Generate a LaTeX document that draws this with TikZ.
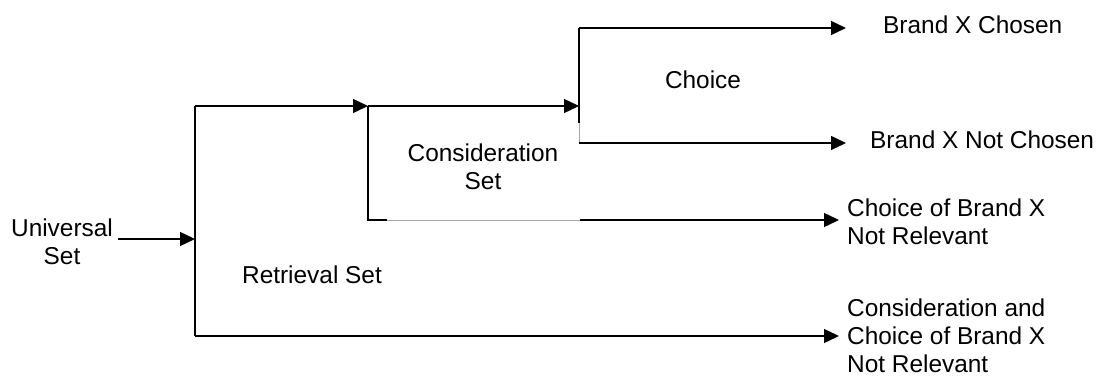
\documentclass[tikz,border=0pt]{standalone}
\usepackage{fontspec}
\setmainfont{Liberation Sans}
\usetikzlibrary{arrows.meta}
\begin{document}
\begin{tikzpicture}[x=1bp,y=1bp,
  lbl/.style={inner sep=0pt, font=\fontsize{24.5}{28}\selectfont},
  lblL/.style={lbl, anchor=west, align=left},
  lblC/.style={lbl, align=center},
  flow/.style={line width=1.4bp, black},
  flowarr/.style={flow, -{Triangle[length=15bp,width=14bp]}},
  faint/.style={line width=0.5bp, black!35}]
\useasboundingbox (0,0) rectangle (1098,380);

% labels
\node[lblC] (univ) at (62,138) {Universal\\Set};
\node[lblC] (retr) at (312,105) {Retrieval Set};
\node[lblC] (cons) at (483,213) {Consideration\\Set};
\node[lblC] (choi) at (703,300) {Choice};
\node[lblL] (chosen) at (883,355) {Brand X Chosen};
\node[lblL] (notch) at (870,240) {Brand X Not Chosen};
\node[lblL] (cnr) at (847,158) {Choice of Brand X\\Not Relevant};
\node[lblL] (ccnr) at (847,44) {Consideration and\\Choice of Brand X\\Not Relevant};

% junction points
\coordinate (uin) at (118,141);
\coordinate (rmid) at (195,141);
\coordinate (rtop) at (195,274);
\coordinate (rbot) at (195,44);
\coordinate (ctop) at (368,274);
\coordinate (cbot) at (368,160);
\coordinate (cgap) at (387,160);
\coordinate (cgapend) at (580,160);
\coordinate (hmid) at (579,274);
\coordinate (htop) at (579,352);
\coordinate (hgap) at (579,257);
\coordinate (hbot) at (579,237);

% retrieval stage
\draw[flowarr] (uin) -- (rmid);
\draw[flow] (rtop) -- (rbot);
\draw[flowarr] (rtop) -- (ctop);
\draw[flowarr] (rbot) -- ([xshift=-8bp]ccnr.west |- rbot);

% consideration stage
\draw[flow] (ctop) -- (cbot) -- (cgap);
\draw[faint] (cgap) -- (cgapend);
\draw[flowarr] (cgapend) -- ([xshift=-8bp]cnr.west |- cgapend);
\draw[flowarr] (ctop) -- (hmid);

% choice stage
\draw[flow] (htop) -- (hgap);
\draw[faint] (hgap) -- (hbot);
\draw[flowarr] (htop) -- ([xshift=-37bp]chosen.west |- htop);
\draw[flowarr] (hbot) -- ([xshift=-24bp]notch.west |- hbot);
\end{tikzpicture}
\end{document}
